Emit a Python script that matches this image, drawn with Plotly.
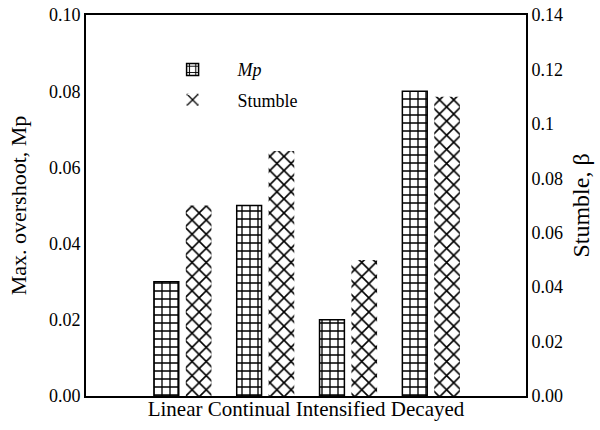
import plotly.graph_objects as go

categories = ["Linear", "Continual", "Intensified", "Decayed"]
mp_values = [0.03, 0.05, 0.02, 0.08]
stumble_values = [0.07, 0.09, 0.05, 0.11]
left_ticks = [0.00, 0.02, 0.04, 0.06, 0.08, 0.10]
right_tickvals = [0.00, 0.02, 0.04, 0.06, 0.08, 0.10, 0.12, 0.14]
right_ticktext = ["0.00", "0.02", "0.04", "0.06", "0.08", "0.1", "0.12", "0.14"]

FONT = "Liberation Serif, Times New Roman, serif"

fig = go.Figure()
fig.add_trace(go.Bar(
    x=categories, y=mp_values, name="<i>Mp</i>", yaxis="y",
    legendgroup="mp",
    width=0.30, offset=-0.345,
    marker=dict(color="white", line=dict(color="black", width=1.5),
                pattern=dict(shape="+", fgcolor="black", bgcolor="white",
                             fgopacity=1, size=8, solidity=0.3)),
))
fig.add_trace(go.Bar(
    x=categories, y=stumble_values, name="Stumble", yaxis="y2",
    legendgroup="st",
    width=0.31, offset=0.04,
    marker=dict(color="white", line=dict(color="black", width=0),
                pattern=dict(shape="x", fgcolor="black", bgcolor="white",
                             fgopacity=1, size=10, solidity=0.3)),
))

fig.update_layout(
    width=600, height=430,
    margin=dict(l=86, r=74, t=15, b=34),
    paper_bgcolor="white", plot_bgcolor="white",
    font=dict(family=FONT, size=18, color="black"),
    showlegend=True,
    legend=dict(x=0.14, y=0.905, xanchor="left", yanchor="top",
                bgcolor="rgba(0,0,0,0)", font=dict(size=18, family=FONT),
                itemwidth=80, traceorder="grouped", tracegroupgap=4),
    xaxis=dict(
        type="category", range=[-1.165, 4.148],
        showticklabels=False, ticks="",
        showline=True, linecolor="black", linewidth=2, mirror=True,
        showgrid=False, zeroline=False, automargin=False,
        title=dict(text=" ".join(categories), font=dict(size=21, family=FONT), standoff=4),
    ),
    yaxis=dict(
        range=[0, 0.10], tickvals=left_ticks, tickformat=".2f",
        showline=True, linecolor="black", linewidth=2,
        showgrid=False, zeroline=False, ticks="", automargin=False,
        tickfont=dict(size=18, family=FONT),
        title=dict(text="Max. overshoot, Mp", font=dict(size=22, family=FONT), standoff=16),
    ),
    yaxis2=dict(
        range=[0, 0.14], tickvals=right_tickvals, ticktext=right_ticktext,
        overlaying="y", side="right",
        showline=True, linecolor="black", linewidth=2,
        showgrid=False, zeroline=False, ticks="", automargin=False,
        tickfont=dict(size=18, family=FONT),
        title=dict(text="Stumble, β", font=dict(size=24, family=FONT), standoff=10),
    ),
)

fig.write_html("out.html")
